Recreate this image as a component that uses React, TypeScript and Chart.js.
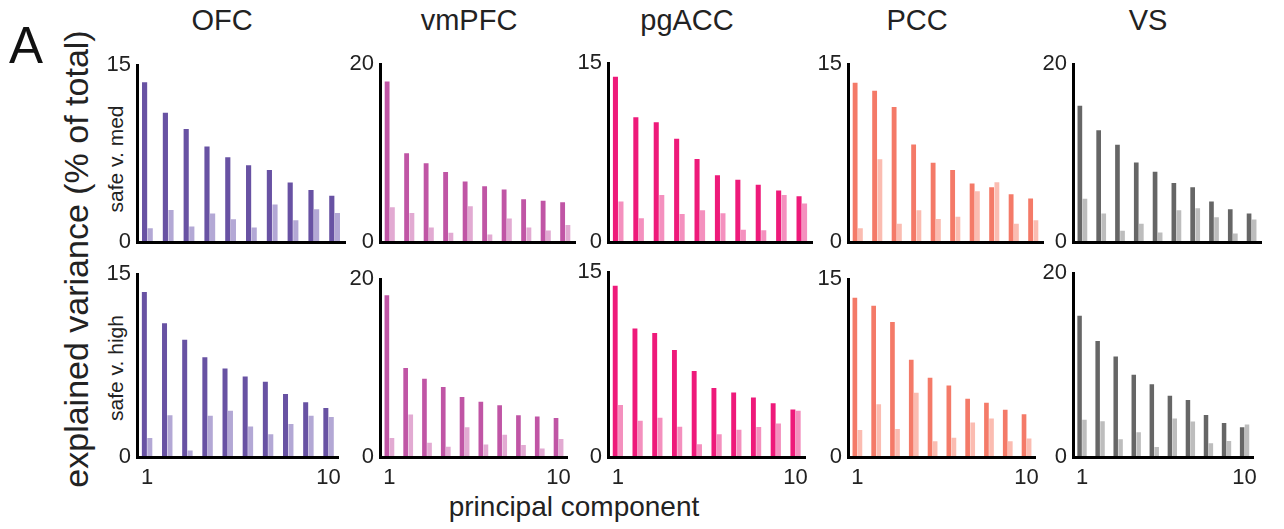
import React, { useEffect, useRef } from "react";
import Chart from "chart.js/auto";

// ---------------- DATA ----------------
const components = ["1", "2", "3", "4", "5", "6", "7", "8", "9", "10"];
const regions = ["OFC", "vmPFC", "pgACC", "PCC", "VS"];
const rowLabels = ["safe v. med", "safe v. high"];
const yMaxByRegion = [15, 20, 15, 15, 20];

const ofcMedDark = [13.56, 10.97, 9.58, 8.11, 7.19, 6.51, 6.1, 5.04, 4.41, 3.92];
const ofcMedLight = [1.17, 2.72, 1.31, 2.42, 1.93, 1.23, 3.19, 1.85, 2.78, 2.45];
const vmpfcMedDark = [18.05, 9.98, 8.86, 7.88, 6.8, 6.26, 5.9, 4.81, 4.63, 4.48];
const vmpfcMedLight = [3.91, 3.25, 1.63, 1.05, 4.01, 0.83, 2.64, 1.63, 1.3, 1.92];
const pgaccMedDark = [13.87, 10.46, 10.05, 8.66, 6.96, 5.59, 5.22, 4.81, 4.33, 3.84];
const pgaccMedLight = [3.39, 1.99, 3.95, 2.34, 2.66, 2.42, 1.02, 0.99, 3.95, 3.23];
const pccMedDark = [13.43, 12.76, 11.38, 8.23, 6.69, 6.07, 4.94, 4.61, 4.02, 3.67];
const pccMedLight = [1.16, 6.99, 1.54, 2.67, 1.94, 2.13, 4.29, 5.04, 1.54, 1.83];
const vsMedDark = [15.34, 12.56, 10.94, 8.95, 7.91, 6.64, 6.17, 4.55, 3.68, 3.21];
const vsMedLight = [4.87, 3.21, 1.26, 2.06, 1.08, 3.57, 3.79, 2.78, 0.97, 2.53];

const ofcHighDark = [13.53, 10.97, 9.63, 8.18, 7.26, 6.61, 6.18, 5.16, 4.5, 4.03];
const ofcHighLight = [1.55, 3.42, 0.53, 3.39, 3.79, 2.5, 1.87, 2.71, 3.39, 3.29];
const vmpfcHighDark = [18.19, 10.0, 8.81, 7.87, 6.75, 6.21, 5.81, 4.69, 4.55, 4.4];
const vmpfcHighLight = [2.13, 4.77, 1.59, 1.16, 3.36, 1.41, 2.49, 1.34, 0.97, 2.02];
const pgaccHighDark = [13.9, 10.44, 10.07, 8.69, 6.99, 5.61, 5.24, 4.83, 4.36, 3.86];
const pgaccHighLight = [4.23, 2.95, 3.18, 2.45, 1.04, 1.85, 2.22, 2.43, 2.71, 3.76];
const pccHighDark = [13.43, 12.76, 11.38, 8.2, 6.69, 6.04, 4.91, 4.58, 3.99, 3.61];
const pccHighLight = [2.27, 4.45, 2.37, 5.42, 1.32, 1.62, 2.91, 3.24, 1.32, 1.56];
const vsHighDark = [15.37, 12.61, 10.94, 8.95, 7.91, 6.66, 6.2, 4.56, 3.69, 3.24];
const vsHighLight = [4.04, 3.9, 1.92, 2.68, 1.08, 4.18, 3.87, 1.5, 1.74, 3.55];

// ---------------- STYLE / LAYOUT ----------------
const darkColors = ["#6852a3", "#c055a5", "#ee1a7a", "#f47a68", "#666666"];
const lightColors = ["#b3a8d5", "#e2aad2", "#f490be", "#fbbcb1", "#bdbdbd"];

const colAxisX = [137, 380, 608, 848, 1073];
const colWidth = [208, 195, 204, 195, 188];
const rowTops = [
  [58, 57, 56, 57, 57],
  [267, 272, 265, 272, 266],
];
const rowBottoms = [242, 457];
const titleCenters = [222, 469, 687, 917, 1148];

const FONT = "Arial, 'Liberation Sans', Helvetica, sans-serif";
const YW = 40;
const PT = 12;
const PR = 4;
const XH = 34;

const panelData = [
  [
    [ofcMedDark, ofcMedLight],
    [vmpfcMedDark, vmpfcMedLight],
    [pgaccMedDark, pgaccMedLight],
    [pccMedDark, pccMedLight],
    [vsMedDark, vsMedLight],
  ],
  [
    [ofcHighDark, ofcHighLight],
    [vmpfcHighDark, vmpfcHighLight],
    [pgaccHighDark, pgaccHighLight],
    [pccHighDark, pccHighLight],
    [vsHighDark, vsHighLight],
  ],
];

function Panel({ row, col }: { row: number; col: number }) {
  const ref = useRef<HTMLCanvasElement | null>(null);
  const top = rowTops[row][col];
  const chartH = rowBottoms[row] - top;
  const W = YW + colWidth[col] + PR;
  const H = PT + chartH + XH;
  const left = colAxisX[col] - YW;
  const canvasTop = top - PT;

  useEffect(() => {
    if (!ref.current) return;
    const [dark, light] = panelData[row][col];
    const ymax = yMaxByRegion[col];
    const showX = row === 1;
    const chart = new Chart(ref.current, {
      type: "bar",
      data: {
        labels: components,
        datasets: [
          {
            data: dark,
            backgroundColor: darkColors[col],
            borderWidth: 0,
            categoryPercentage: 0.54,
            barPercentage: 0.92,
          },
          {
            data: light,
            backgroundColor: lightColors[col],
            borderWidth: 0,
            categoryPercentage: 0.54,
            barPercentage: 0.92,
          },
        ],
      },
      options: {
        responsive: false,
        animation: false,
        events: [],
        layout: { padding: { top: PT, right: PR, left: 0, bottom: 0 } },
        plugins: { legend: { display: false }, tooltip: { enabled: false } },
        scales: {
          x: {
            type: "category",
            offset: true,
            grid: { display: false, drawTicks: false },
            border: { display: true, color: "#000", width: 3, z: 1 },
            afterFit: (s: any) => {
              s.height = XH;
            },
            ticks: {
              display: showX,
              autoSkip: false,
              maxRotation: 0,
              padding: 8,
              color: "#222",
              font: { family: FONT, size: 22 },
              callback: (_v: any, i: number) =>
                i === 0 ? components[0] : i === components.length - 1 ? components[components.length - 1] : "",
            },
          },
          y: {
            min: 0,
            max: ymax,
            grid: { display: false, drawTicks: false },
            border: { display: true, color: "#000", width: 3, z: 1 },
            afterFit: (s: any) => {
              s.width = YW;
            },
            afterBuildTicks: (s: any) => {
              s.ticks = [{ value: 0 }, { value: ymax }];
            },
            ticks: {
              padding: 6,
              color: "#222",
              font: { family: FONT, size: 22 },
            },
          },
        },
      },
    });
    return () => chart.destroy();
  }, [row, col]);

  return (
    <canvas
      ref={ref}
      width={W}
      height={H}
      style={{ position: "absolute", left, top: canvasTop, width: W, height: H }}
    />
  );
}

export default function App() {
  const panels: JSX.Element[] = [];
  for (let r = 0; r < 2; r++) {
    for (let c = 0; c < 5; c++) {
      panels.push(<Panel key={`${r}-${c}`} row={r} col={c} />);
    }
  }
  const rotated = (text: string, cx: number, cy: number, size: number) => (
    <div
      style={{
        position: "absolute",
        left: cx,
        top: cy,
        transform: "translate(-50%, -50%) rotate(-90deg)",
        whiteSpace: "nowrap",
        fontFamily: FONT,
        fontSize: size,
        lineHeight: 1,
        color: "#222",
      }}
    >
      {text}
    </div>
  );
  return (
    <div
      style={{
        position: "fixed",
        left: 0,
        top: 0,
        width: 1284,
        height: 529,
        background: "#fff",
        overflow: "hidden",
      }}
    >
      <div
        style={{
          position: "absolute",
          left: 9,
          top: 20,
          fontFamily: FONT,
          fontSize: 51,
          lineHeight: 1,
          color: "#111",
        }}
      >
        A
      </div>
      {regions.map((name, i) => (
        <div
          key={name}
          style={{
            position: "absolute",
            left: titleCenters[i],
            top: 6,
            transform: "translateX(-50%)",
            fontFamily: FONT,
            fontSize: 29,
            lineHeight: 1,
            color: "#222",
            whiteSpace: "nowrap",
          }}
        >
          {name}
        </div>
      ))}
      {rotated("explained variance (% of total)", 76, 259, 34)}
      {rotated(rowLabels[0], 115, 159, 21)}
      {rotated(rowLabels[1], 115, 368, 21)}
      <div
        style={{
          position: "absolute",
          left: 574,
          top: 493,
          transform: "translateX(-50%)",
          fontFamily: FONT,
          fontSize: 28,
          lineHeight: 1,
          color: "#222",
          whiteSpace: "nowrap",
        }}
      >
        principal component
      </div>
      {panels}
    </div>
  );
}
